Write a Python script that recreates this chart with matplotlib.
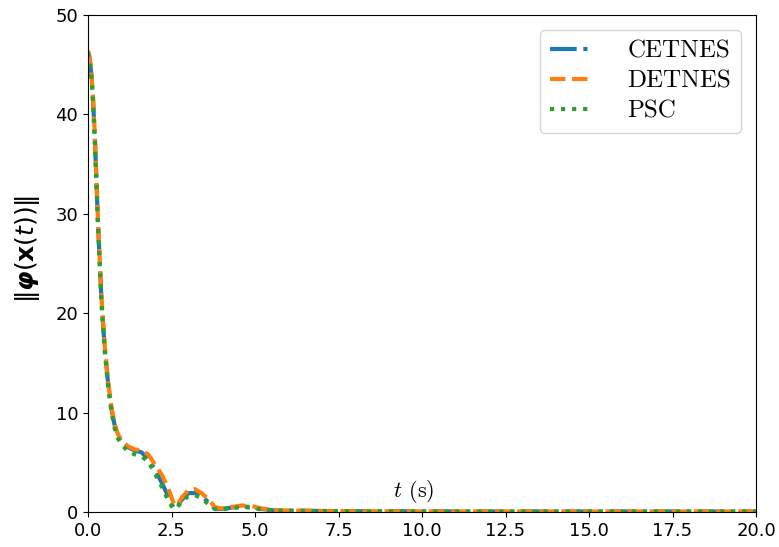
import matplotlib
matplotlib.use("Agg")
import matplotlib.pyplot as plt
import numpy as np

t = [0, 0.05, 0.1, 0.15, 0.2, 0.25, 0.3, 0.4, 0.5, 0.6, 0.7, 0.8, 0.9, 1.0, 1.2, 1.4,
     1.6, 1.8, 2.0, 2.2, 2.4, 2.55, 2.65, 2.8, 3.0, 3.2, 3.4, 3.6, 3.8, 4.0, 4.3, 4.6,
     4.9, 5.2, 5.6, 6.0, 7.0, 8.0, 10.0, 12.0, 14.0, 16.0, 18.0, 20.0]

cetnes = [46.3, 45.6, 44.0, 41.5, 38.0, 33.5, 29.0, 21.5, 16.5, 13.0, 10.4, 8.7, 7.7, 7.1, 6.5, 6.2,
          6.0, 5.4, 4.3, 3.0, 1.6, 0.5, 0.5, 1.2, 1.9, 1.9, 1.6, 1.0, 0.35, 0.3, 0.45, 0.55,
          0.5, 0.3, 0.15, 0.15, 0.1, 0.08, 0.06, 0.05, 0.05, 0.05, 0.05, 0.05]

detnes = [46.4, 45.7, 44.2, 41.8, 38.3, 33.8, 29.3, 21.8, 16.8, 13.2, 10.6, 8.8, 7.8, 7.2, 6.6, 6.3,
          6.2, 5.8, 4.8, 3.8, 2.4, 1.0, 0.6, 1.4, 2.2, 2.3, 1.9, 1.3, 0.5, 0.35, 0.5, 0.65,
          0.6, 0.35, 0.18, 0.15, 0.1, 0.08, 0.06, 0.05, 0.05, 0.05, 0.05, 0.05]

psc = [46.2, 45.5, 43.8, 41.2, 37.7, 33.2, 28.7, 21.2, 16.2, 12.7, 10.1, 8.4, 7.4, 6.8, 6.1, 5.8,
       5.6, 5.1, 3.9, 2.6, 1.2, 0.3, 0.4, 1.0, 1.6, 1.7, 1.4, 0.8, 0.3, 0.25, 0.4, 0.5,
       0.45, 0.25, 0.12, 0.12, 0.09, 0.07, 0.06, 0.05, 0.05, 0.05, 0.05, 0.05]

labels = ["CETNES", "DETNES", "PSC"]

fig = plt.figure(figsize=(7.79, 5.47), dpi=100)
ax = fig.add_axes([88/779, 35/547, 668/779, 497/547])

ax.plot(t, cetnes, linestyle="-.", color="#1f77b4", lw=3, label=labels[0])
ax.plot(t, detnes, linestyle="--", color="#ff7f0e", lw=3, label=labels[1])
ax.plot(t, psc, linestyle=":", color="#2ca02c", lw=3, label=labels[2])

ax.set_xlim(0, 20)
ax.set_ylim(0, 50)
ax.set_xticks(np.arange(0, 20.1, 2.5))
ax.set_yticks(np.arange(0, 51, 10))
ax.tick_params(labelsize=13)

ax.set_ylabel(r"$\Vert\mathbfit{\varphi}(\mathbf{x}(t))\Vert$",
              fontsize=18, math_fontfamily="dejavusans")
ax.yaxis.set_label_coords(-0.069, 0.529)
ax.text(0.487, 0.03, r"$t$ (s)", transform=ax.transAxes, ha="center", va="baseline",
        fontsize=16, family="cmr10", math_fontfamily="cm")

leg = ax.legend(loc="upper right", prop={"family": "cmr10", "size": 18},
                handlelength=1.7, handletextpad=1.4, labelspacing=0.3,
                borderaxespad=0.6, fancybox=True)

fig.savefig("out.png", dpi=100)
